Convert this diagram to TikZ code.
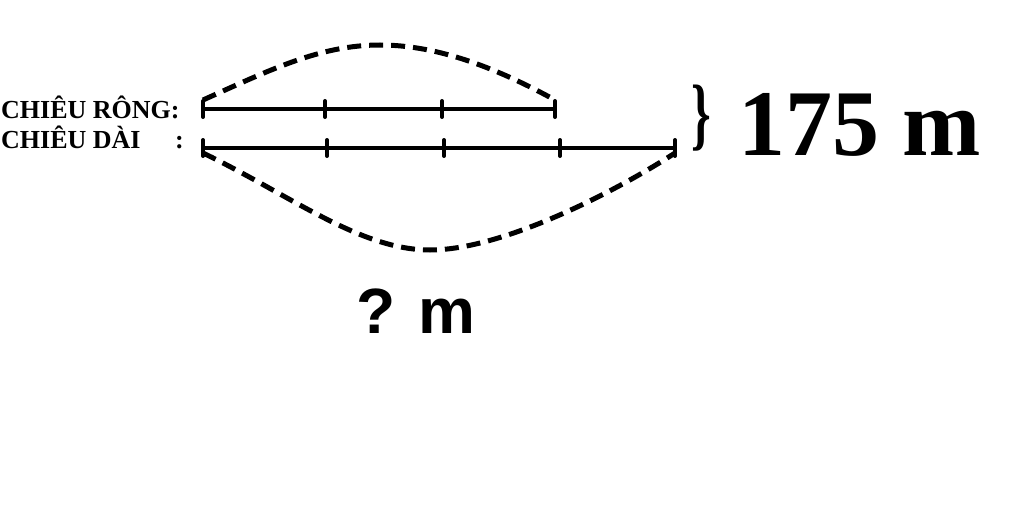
\documentclass[tikz,border=0pt]{standalone}
\usepackage{fontspec}
\setmainfont{Liberation Serif}
\newfontfamily\sansbold{Liberation Sans}
\usepackage{graphicx}
\begin{document}
\begin{tikzpicture}[x=1pt,y=-1pt,
  seg/.style={line width=4pt},
  tickmark/.style={line width=4pt, line cap=round},
  dashcurve/.style={line width=5pt, dash pattern=on 14pt off 8pt},
  lbl/.style={font=\fontsize{26}{26}\selectfont\bfseries, inner sep=0pt, anchor=base west}]
\useasboundingbox (0,0) rectangle (1024,532);
% labels
\node[lbl] (rong) at (1,118) {CHIÊU RÔNG:};
\node[lbl] (dai) at (1,148) {CHIÊU DÀI};
\node[lbl] (daic) at (175,148) {:};
% coordinates
\coordinate (a0) at (203,109);
\coordinate (a1) at (325,109);
\coordinate (a2) at (442,109);
\coordinate (a3) at (555,109);
\coordinate (b0) at (203,148);
\coordinate (b1) at (327,148);
\coordinate (b2) at (444,148);
\coordinate (b3) at (560,148);
\coordinate (b4) at (675,148);
% segments
\draw[seg] (a0) -- (a3);
\draw[seg] (b0) -- (b4);
\foreach \p in {a0,a1,a2,a3,b0,b1,b2,b3,b4}
  \draw[tickmark] ([yshift=-8pt]\p) -- ([yshift=8pt]\p);
% dashed curves
\draw[dashcurve] (203,100) .. controls (270,70) and (320,45) .. (380,45)
  .. controls (440,45) and (500,70) .. (555,100);
\draw[dashcurve] (203,153) .. controls (290,195) and (360,250) .. (430,250)
  .. controls (500,250) and (610,195) .. (675,153);
% brace and totals
\node[inner sep=0pt] (brace) at (701,118) {\scalebox{1.0}[1.6]{\fontsize{50}{50}\selectfont\bfseries\}}};
\node[inner sep=0pt, anchor=base west, font=\fontsize{94}{94}\selectfont\bfseries] (total) at (738,155) {175 m};
\node[inner sep=0pt, anchor=base west, font=\fontsize{64}{64}\selectfont\sansbold\bfseries] (q) at (356,333) {? m};
\end{tikzpicture}
\end{document}
